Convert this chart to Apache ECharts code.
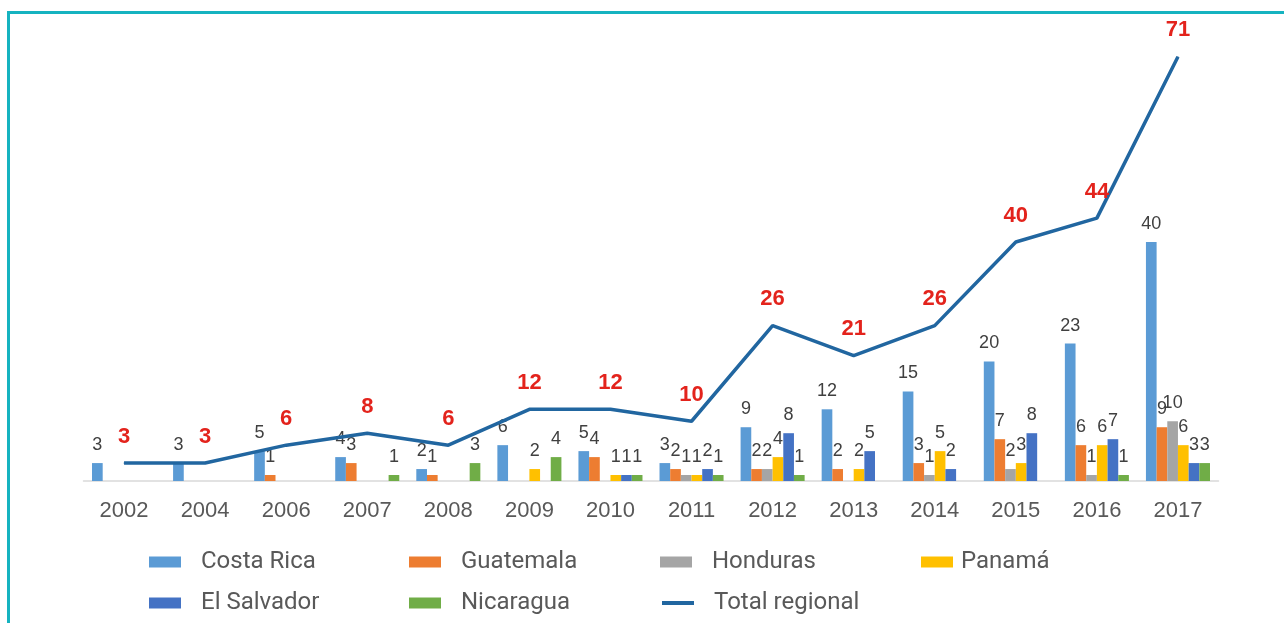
<!DOCTYPE html>
<html>
<head>
<meta charset="utf-8">
<script src="https://cdn.jsdelivr.net/npm/echarts@6/dist/echarts.min.js"></script>
<style>
html,body{margin:0;padding:0;background:#fff;}
#c{width:1284px;height:623px;}
</style>
</head>
<body>
<div id="c"></div>
<script>
const years = ['2002','2004','2006','2007','2008','2009','2010','2011','2012','2013','2014','2015','2016','2017'];
const costaRica  = [3, 3, 5, 4, 2, 6, 5, 3, 9, 12, 15, 20, 23, 40];
const guatemala  = [null, null, 1, 3, 1, null, 4, 2, 2, 2, 3, 7, 6, 9];
const honduras   = [null, null, null, null, null, null, null, 1, 2, null, 1, 2, 1, 10];
const panama     = [null, null, null, null, null, 2, 1, 1, 4, 2, 5, 3, 6, 6];
const elSalvador = [null, null, null, null, null, null, 1, 2, 8, 5, 2, 8, 7, 3];
const nicaragua  = [null, null, null, 1, 3, 4, 1, 1, 1, null, null, null, 1, 3];
const totalRegional = [3, 3, 6, 8, 6, 12, 12, 10, 26, 21, 26, 40, 44, 71];

const countries = [
  {name:'Costa Rica', data:costaRica, color:'#5b9bd5'},
  {name:'Guatemala', data:guatemala, color:'#ed7d31'},
  {name:'Honduras', data:honduras, color:'#a5a5a5'},
  {name:'Panamá', data:panama, color:'#ffc000'},
  {name:'El Salvador', data:elSalvador, color:'#4472c4'},
  {name:'Nicaragua', data:nicaragua, color:'#70ad47'}
];

const chart = echarts.init(document.getElementById('c'));
const font = '"Liberation Sans", Arial, sans-serif';

const barSeries = countries.map(c => ({
  name: c.name,
  type: 'bar',
  data: c.data,
  barGap: '0%',
  barCategoryGap: '21%',
  itemStyle: {color: c.color},
  label: {show: true, position: 'top', distance: 9, color: '#404040', fontSize: 18, fontFamily: font}
}));

const legendText = {fontSize: 24, color: '#595959', fontFamily: 'Roboto, sans-serif'};
function lg(name, left, top, pad) {
  return {data:[name], left:left, top:top, itemWidth:32, itemHeight:11, icon: name==='Total regional' ? undefined : 'rect',
    textStyle: Object.assign({padding:[0,0,0,pad]}, legendText), selectedMode:false};
}

chart.setOption({
  animation: false,
  graphic: [
    {type:'rect', shape:{x:7, y:11, width:1290, height:3}, style:{fill:'#16b3c0'}},
    {type:'rect', shape:{x:7, y:11, width:3, height:620}, style:{fill:'#16b3c0'}}
  ],
  grid: {left: 83.5, right: 65.5, top: 3, bottom: 142},
  legend: [
    lg('Costa Rica', 144, 545, 15),
    lg('Guatemala', 404, 545, 15),
    lg('Honduras', 655, 545, 15),
    lg('Panamá', 916, 545, 3),
    lg('El Salvador', 144, 586, 15),
    lg('Nicaragua', 404, 586, 15),
    Object.assign(lg('Total regional', 655, 586, 15), {itemStyle:{opacity:0}, lineStyle:{width:4}})
  ],
  xAxis: {
    type: 'category',
    data: years,
    axisLine: {lineStyle: {color: '#d9d9d9', width: 1.5}},
    axisTick: {show: false},
    axisLabel: {color: '#595959', fontSize: 22, fontFamily: font, margin: 19}
  },
  yAxis: {type: 'value', min: 0, max: 80, show: false, splitLine: {show: false}},
  series: barSeries.concat([{
    name: 'Total regional',
    type: 'line',
    data: totalRegional,
    symbol: 'circle',
    symbolSize: 1,
    showSymbol: true,
    z: 5,
    lineStyle: {color: '#2166a0', width: 3.5},
    itemStyle: {color: '#2166a0'},
    label: {show: true, position: 'top', distance: 15, color: '#e3231c', fontWeight: 'bold', fontSize: 22, fontFamily: font}
  }])
});
</script>
</body>
</html>
